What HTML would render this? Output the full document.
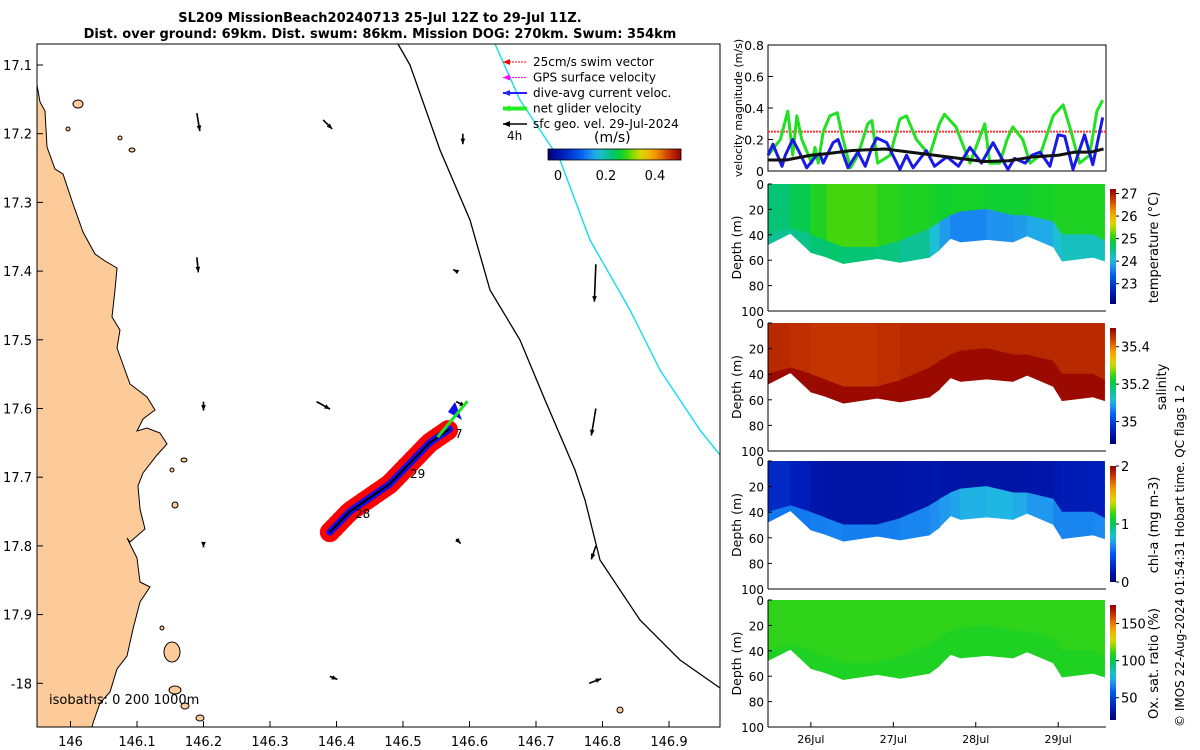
<!DOCTYPE html>
<html><head><meta charset="utf-8"><style>
body{margin:0;background:#fff;}
svg{display:block;font-family:"DejaVu Sans","Liberation Sans",sans-serif;}
</style></head><body>
<svg id="root" width="1200" height="750" viewBox="0 0 1200 750">
<text x="380" y="22" text-anchor="middle" font-size="13" font-weight="bold">SL209 MissionBeach20240713 25-Jul 12Z to 29-Jul 11Z.</text>
<text x="380" y="38" text-anchor="middle" font-size="13" font-weight="bold">Dist. over ground: 69km. Dist. swum: 86km. Mission DOG: 270km. Swum: 354km</text>
<g id="map"></g>
<g id="right"></g>
<text transform="translate(1184,727) rotate(-90)" font-size="12">© IMOS 22-Aug-2024 01:54:31 Hobart time. QC flags 1  2</text>
</svg>
<script>
// ---------- data ----------
const lonTicks=[146,146.1,146.2,146.3,146.4,146.5,146.6,146.7,146.8,146.9];
const latTicks=[17.1,17.2,17.3,17.4,17.5,17.6,17.7,17.8,17.9,18];
const arrowLon=[146.19,146.38,146.59,146.19,146.58,146.79,146.2,146.37,146.58,146.79,146.2,146.58,146.79,146.39,146.78];
const arrowLat=[17.17,17.18,17.2,17.38,17.4,17.39,17.59,17.59,17.59,17.6,17.8,17.79,17.8,17.99,18.0];
const arrowU=[0.02,0.06,0.0,0.01,-0.02,-0.01,0.0,0.09,0.06,-0.03,0.0,0.03,-0.03,0.05,0.08];
const arrowV=[-0.12,-0.06,-0.07,-0.1,0.01,-0.25,-0.06,-0.05,-0.03,-0.18,-0.01,-0.03,-0.09,-0.02,0.03];
const trackLon=[146.39,146.42,146.45,146.48,146.51,146.54,146.57];
const trackLat=[17.78,17.75,17.73,17.71,17.68,17.65,17.63];
const vDaysG=[25.48,25.63,25.72,25.78,25.83,25.89,26.01,26.05,26.09,26.15,26.23,26.32,26.39,26.48,26.57,26.69,26.74,26.81,26.96,27.08,27.16,27.28,27.44,27.56,27.62,27.76,27.93,28.11,28.17,28.29,28.38,28.45,28.57,28.66,28.78,28.94,29.06,29.14,29.26,29.38,29.47,29.54];
const vGreen=[0.1,0.2,0.38,0.1,0.35,0.2,0.05,0.15,0.05,0.25,0.35,0.37,0.2,0.02,0.1,0.3,0.32,0.05,0.1,0.33,0.35,0.2,0.1,0.3,0.36,0.28,0.05,0.3,0.05,0.05,0.2,0.28,0.2,0.05,0.1,0.35,0.42,0.28,0.05,0.1,0.38,0.45];
const vDaysB=[25.48,25.54,25.65,25.69,25.78,25.85,25.95,26.07,26.11,26.15,26.27,26.33,26.45,26.57,26.66,26.74,26.8,26.92,27.08,27.16,27.24,27.4,27.5,27.65,27.79,27.93,28.07,28.21,28.39,28.47,28.6,28.68,28.78,28.9,29.0,29.08,29.18,29.32,29.42,29.54];
const vBlue=[0.1,0.17,0.03,0.1,0.2,0.13,0.02,0.1,0.11,0.05,0.18,0.2,0.02,0.12,0.03,0.15,0.21,0.18,0.01,0.1,0.02,0.13,0.03,0.09,0.03,0.15,0.05,0.18,0.01,0.08,0.05,0.1,0.12,0.03,0.23,0.22,0.01,0.23,0.04,0.34];
const vDaysK=[25.48,25.7,26.0,26.2,26.5,26.9,27.2,27.5,27.8,28.1,28.4,28.7,29.0,29.2,29.4,29.55];
const vBlack=[0.07,0.07,0.1,0.11,0.13,0.14,0.12,0.1,0.08,0.06,0.065,0.09,0.1,0.12,0.12,0.14];
const swimRef=0.25;
const velTicks=[0,0.2,0.4,0.6,0.8];
const depthTicks=[0,20,40,60,80,100];
const dateTicks=[26,27,28,29];
const dateLabels=["26Jul","27Jul","28Jul","29Jul"];
const hmDays=[25.46,25.75,25.99,26.19,26.39,26.8,27.08,27.44,27.56,27.69,27.81,28.13,28.45,28.62,28.94,29.04,29.42,29.56];
const diveDepth=[48,39,54,58,63,59,62,58,52,43,46,44,46,41,50,61,58,61];
const layerDepth=[40,35,40,45,50,50,45,35,30,25,22,20,25,25,30,40,40,45];
const tempUp=[24.5,24.6,24.9,25.1,25.2,25.1,25.0,25.0,24.9,24.9,25.0,24.9,24.9,24.9,25.0,25.0,25.0,25.0];
const tempLow=[24.4,24.4,24.5,24.6,24.6,24.5,24.5,24.3,23.9,23.7,23.6,23.7,23.8,23.8,24.0,24.2,24.2,24.2];
const salUp=[35.46,35.46,35.45,35.45,35.45,35.45,35.46,35.46,35.46,35.46,35.46,35.46,35.46,35.46,35.46,35.46,35.46,35.46];
const salLow=[35.49,35.49,35.49,35.49,35.49,35.49,35.49,35.49,35.49,35.49,35.49,35.49,35.49,35.49,35.49,35.49,35.49,35.49];
const chlUp=[0.3,0.25,0.18,0.15,0.15,0.15,0.15,0.18,0.16,0.15,0.15,0.15,0.15,0.15,0.18,0.2,0.22,0.22];
const chlLow=[0.58,0.56,0.58,0.6,0.6,0.58,0.6,0.62,0.65,0.68,0.7,0.75,0.72,0.7,0.62,0.6,0.62,0.62];
const oxUp=[110,110,110,110,110,110,110,110,110,110,110,110,110,110,110,110,110,110];
const oxLow=[108,108,108,108,108,108,108,108,108,108,108,108,108,108,108,108,108,108];

// ---------- helpers ----------
const NS="http://www.w3.org/2000/svg";
function mk(tag,attrs,parent,text){const e=document.createElementNS(NS,tag);for(const k in attrs)e.setAttribute(k,attrs[k]);if(text!==undefined)e.textContent=text;parent.appendChild(e);return e;}
const CM=[[0,[0,0,120]],[0.12,[0,32,192]],[0.25,[0,96,240]],[0.32,[32,144,240]],[0.38,[32,192,224]],[0.44,[16,192,160]],[0.5,[0,200,96]],[0.56,[20,208,40]],[0.62,[96,216,0]],[0.68,[208,224,0]],[0.74,[240,192,0]],[0.82,[240,144,0]],[0.9,[208,64,0]],[1,[144,0,0]]];
function cmap(t){t=Math.max(0,Math.min(1,t));for(let i=1;i<CM.length;i++){if(t<=CM[i][0]){const a=CM[i-1],b=CM[i],f=(t-a[0])/(b[0]-a[0]);const c=a[1].map((v,k)=>Math.round(v+(b[1][k]-v)*f));return `rgb(${c})`;}}return 'rgb(144,0,0)';}

// ---------- map ----------
const map=document.getElementById('map');
const mx=lon=>137+(lon-146.1)*665, my=lat=>65+(lat-17.1)*687;
const MX0=37,MX1=720,MY0=44,MY1=727;
const clip=mk('clipPath',{id:'mapclip'},mk('defs',{},map));mk('rect',{x:MX0,y:MY0,width:MX1-MX0,height:MY1-MY0},clip);
const mg=mk('g',{'clip-path':'url(#mapclip)'},map);
const coast=[[37,44],[37,85],[40,102],[45,111],[47,147],[55,169],[63,174],[72,201],[83,232],[95,254],[105,261],[117,268],[115,290],[112,317],[120,330],[117,348],[130,384],[147,397],[155,410],[143,419],[137,431],[147,428],[160,433],[167,444],[157,455],[143,473],[138,486],[140,509],[145,529],[130,542],[127,538],[137,558],[140,582],[150,587],[140,602],[133,629],[127,656],[117,669],[110,692],[100,703],[93,723],[92,727],[37,727]];
const land=mk('polygon',{points:coast.map(p=>p.join(',')).join(' '),fill:'#fccb99',stroke:'#000','stroke-width':1},mg);

const islands=[[78,104,5,4],[132,150,3,2],[120,138,2,2],[68,129,2,2],[172,652,8,10],[175,690,6,4],[184,460,3,2],[175,505,3,3],[162,628,2,2],[200,718,4,3],[185,706,4,3],[620,710,3,3],[172,470,2,2]];
islands.forEach(i=>{const e=mk('ellipse',{cx:i[0],cy:i[1],rx:i[2],ry:i[3],fill:'#fccb99',stroke:'#000','stroke-width':1},mg);});
const iso200=mk('polyline',{points:'398,44 410,65 440,150 470,220 490,290 520,340 545,400 575,470 585,500 600,560 640,620 680,660 720,688',fill:'none',stroke:'#000','stroke-width':1.3},mg);

const iso1000=mk('polyline',{points:'495,44 520,100 560,160 590,240 630,310 660,370 700,430 720,455',fill:'none',stroke:'#22dde8','stroke-width':1.5},mg);

const qs=150;
for(let i=0;i<arrowLon.length;i++){const x=mx(arrowLon[i]),y=my(arrowLat[i]);const x2=x+arrowU[i]*qs,y2=y-arrowV[i]*qs;
 const g=mk('g',{},mg);
 mk('line',{x1:x,y1:y,x2:x2,y2:y2,stroke:'#000','stroke-width':1.6},g);
 const a=Math.atan2(y2-y,x2-x);mk('polygon',{points:`${x2},${y2} ${x2-6*Math.cos(a-0.4)},${y2-6*Math.sin(a-0.4)} ${x2-6*Math.cos(a+0.4)},${y2-6*Math.sin(a+0.4)}`,fill:'#000'},g);}
const tp=trackLon.map((l,i)=>[mx(l),my(trackLat[i])]);
const tg=mk('g',{},mg);
const pts=tp.map(p=>p.join(',')).join(' ');
mk('polyline',{points:pts,fill:'none',stroke:'#f00','stroke-width':20,'stroke-linecap':'round','stroke-linejoin':'round','stroke-dasharray':'2 3'},tg);
mk('polyline',{points:pts,fill:'none',stroke:'#f00','stroke-width':13,'stroke-linecap':'round','stroke-linejoin':'round'},tg);
mk('polyline',{points:pts,fill:'none',stroke:'#1010ee','stroke-width':7,'stroke-linecap':'round','stroke-linejoin':'round'},tg);
mk('polyline',{points:pts,fill:'none',stroke:'#000','stroke-width':2},tg);
mk('polygon',{points:'455,402 462,420 448,412',fill:'#1010ee'},tg);
const last=tp[tp.length-1];mk('line',{x1:last[0]-12,y1:last[1]+8,x2:last[0]+18,y2:last[1]-28,stroke:'#22e022','stroke-width':3},tg);
mk('text',{x:455,y:438,'font-size':12},tg,'7');mk('text',{x:410,y:478,'font-size':12},tg,'29');mk('text',{x:355,y:518,'font-size':12},tg,'28');
mk('rect',{x:MX0,y:MY0,width:MX1-MX0,height:MY1-MY0,fill:'none',stroke:'#000','stroke-width':1},map);
lonTicks.forEach(l=>{const x=mx(l);mk('line',{x1:x,y1:MY1,x2:x,y2:MY1-6,stroke:'#000'},map);const t=mk('text',{x:x,y:746,'text-anchor':'middle','font-size':13},map,String(l));});
latTicks.forEach(l=>{const y=my(l);mk('line',{x1:MX0,y1:y,x2:MX0+6,y2:y,stroke:'#000'},map);const t=mk('text',{x:32,y:y+5,'text-anchor':'end','font-size':13},map,l===18?'-18':String(l));});
mk('text',{x:49,y:704,'font-size':13},map,'isobaths: 0   200  1000m');
const leg=mk('g',{},map);
const legItems=[['25cm/s swim vector','#f00',1],['GPS surface velocity','#f0f',1],['dive-avg current veloc.','#22f',2],['net glider velocity','#2e2',4],['sfc geo. vel. 29-Jul-2024','#000',1.5]];
legItems.forEach((it,i)=>{const y=62+i*15.5;mk('line',{x1:503,y1:y,x2:527,y2:y,stroke:it[1],'stroke-width':it[2],'stroke-dasharray':i<2?'2 1':''},leg);mk('polygon',{points:`503,${y} 510,${y-3} 510,${y+3}`,fill:it[1]},leg);mk('text',{x:533,y:y+4,'font-size':12},leg,it[0]);});
mk('text',{x:507,y:140,'font-size':12},leg,'4h');mk('text',{x:594,y:142,'font-size':14},leg,'(m/s)');
const cg=mk('linearGradient',{id:'cbmap'},mk('defs',{},leg));for(let i=0;i<=20;i++)mk('stop',{offset:i/20,'stop-color':cmap(i/20)},cg);
mk('rect',{x:548,y:149,width:133,height:11,fill:'url(#cbmap)',stroke:'#000','stroke-width':0.8},leg);
[[0,558],[0.2,606],[0.4,655]].forEach(t=>mk('text',{x:t[1],y:180,'text-anchor':'middle','font-size':13},leg,String(t[0])));

// ---------- right panels ----------
const R=document.getElementById('right');
const RX0=768,RX1=1106,D0=25.48,D1=29.58;
const tx=d=>RX0+(d-D0)/(D1-D0)*(RX1-RX0);
const VY0=45,VY1=171;const vy=v=>VY1-v/0.8*(VY1-VY0);
const vp=mk('g',{},R);
mk('rect',{x:RX0,y:VY0,width:RX1-RX0,height:VY1-VY0,fill:'#fff',stroke:'#000'},vp);
mk('line',{x1:RX0,x2:RX1,y1:vy(swimRef),y2:vy(swimRef),stroke:'#f33','stroke-width':2,'stroke-dasharray':'2 1'},vp);
function series(days,vals,col,w,name){const e=mk('polyline',{points:days.map((d,i)=>tx(d)+','+vy(vals[i])).join(' '),fill:'none',stroke:col,'stroke-width':w,'stroke-linejoin':'round'},vp);}
series(vDaysG,vGreen,'#22e022',3,'net-glider-velocity-line');
series(vDaysB,vBlue,'#1a1ae6',3,'dive-avg-current-line');
series(vDaysK,vBlack,'#111',3,'geostrophic-velocity-line');
velTicks.forEach(v=>{mk('line',{x1:RX0,x2:RX0+5,y1:vy(v),y2:vy(v),stroke:'#000'},vp);mk('text',{x:RX0-4,y:vy(v)+5,'text-anchor':'end','font-size':12.5},vp,String(v));});
mk('text',{transform:`translate(742,${(VY0+VY1)/2}) rotate(-90)`,'text-anchor':'middle','font-size':11},vp,'velocity magnitude (m/s)');
const panels=[
 {y0:184,y1:311,up:tempUp,low:tempLow,vmin:22.1,vmax:27.2,ticks:[23,24,25,26,27],lab:'temperature (°C)',name:'temperature-section'},
 {y0:323,y1:451,up:salUp,low:salLow,vmin:34.88,vmax:35.5,ticks:[35,35.2,35.4],lab:'salinity',name:'salinity-section'},
 {y0:461,y1:589,up:chlUp,low:chlLow,vmin:0,vmax:2,ticks:[0,1,2],lab:'chl-a (mg m-3)',name:'chlorophyll-section'},
 {y0:600,y1:727,up:oxUp,low:oxLow,vmin:20,vmax:175,ticks:[50,100,150],lab:'Ox. sat. ratio (%)',name:'oxygen-section'}];
panels.forEach((p,pi)=>{
 const g=mk('g',{},R);
 const dy=d=>p.y0+d/100*(p.y1-p.y0);const nz=v=>(v-p.vmin)/(p.vmax-p.vmin);
 mk('rect',{x:RX0,y:p.y0,width:RX1-RX0,height:p.y1-p.y0,fill:'#fff'},g);
 const n=hmDays.length;const X=i=>Math.max(RX0,Math.min(RX1,tx(hmDays[i])));
 for(let i=0;i<n-1;i++){
  const x0=X(i),x1=X(i+1)+0.6;
  const c1=mk('polygon',{points:`${x0},${dy(0)} ${x1},${dy(0)} ${x1},${dy(layerDepth[i+1])} ${x0},${dy(layerDepth[i])}`,fill:cmap(nz((p.up[i]+p.up[i+1])/2))},g);
  
  const c2=mk('polygon',{points:`${x0},${dy(layerDepth[i])-0.5} ${x1},${dy(layerDepth[i+1])-0.5} ${x1},${dy(diveDepth[i+1])} ${x0},${dy(diveDepth[i])}`,fill:cmap(nz((p.low[i]+p.low[i+1])/2))},g);
  }
 mk('line',{x1:RX0,x2:RX1,y1:p.y1,y2:p.y1,stroke:'#000'},g);mk('line',{x1:RX0,x2:RX0,y1:p.y0,y2:p.y1,stroke:'#000'},g);
 depthTicks.forEach(d=>{mk('line',{x1:RX0,x2:RX0+4,y1:dy(d),y2:dy(d),stroke:'#000'},g);mk('text',{x:RX0-4,y:dy(d)+5,'text-anchor':'end','font-size':12},g,String(d));});
 mk('text',{transform:`translate(741,${(p.y0+p.y1)/2}) rotate(-90)`,'text-anchor':'middle','font-size':12.5},g,'Depth (m)');
 const gid='cb'+pi;const lg=mk('linearGradient',{id:gid,x1:0,y1:1,x2:0,y2:0},mk('defs',{},g));for(let i=0;i<=20;i++)mk('stop',{offset:i/20,'stop-color':cmap(i/20)},lg);
 const cy0=p.y0+5,cy1=p.y1-7;mk('rect',{x:1110,y:cy0,width:6,height:cy1-cy0,fill:`url(#${gid})`},g);
 const cby=v=>cy1-(v-p.vmin)/(p.vmax-p.vmin)*(cy1-cy0);
 p.ticks.forEach(t=>{mk('line',{x1:1116,x2:1119,y1:cby(t),y2:cby(t),stroke:'#000'},g);mk('text',{x:1121,y:cby(t)+5,'font-size':13},g,String(t));});
 mk('text',{transform:`translate(${pi===1?1166:1158},${(p.y0+p.y1)/2}) rotate(-90)`,'text-anchor':'middle','font-size':13},g,p.lab);
});
dateTicks.forEach((d,i)=>{mk('line',{x1:tx(d),x2:tx(d),y1:727,y2:722,stroke:'#000'},R);const t=mk('text',{x:tx(d),y:743,'text-anchor':'middle','font-size':11},R,dateLabels[i]);});
</script>
</body></html>
